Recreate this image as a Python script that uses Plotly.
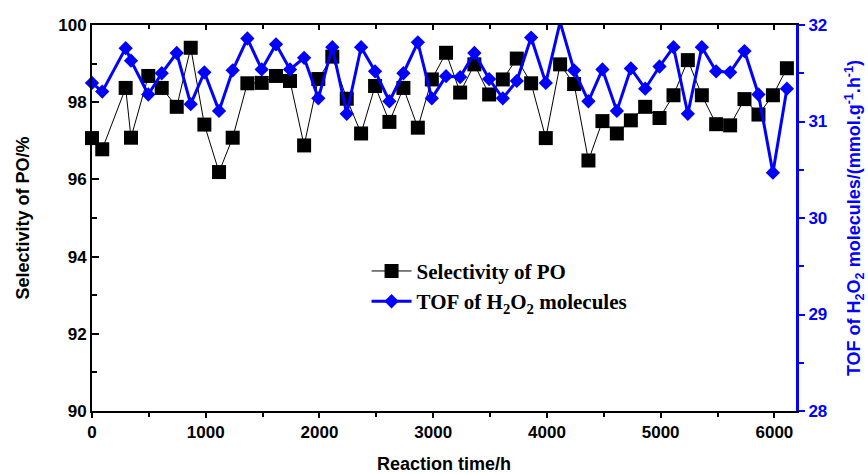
import plotly.graph_objects as go

# Reaction time (h) for each sampling point
time_h = [0, 90, 296, 343, 495, 613, 745, 868, 988, 1117,
          1237, 1366, 1492, 1618, 1741, 1865, 1990, 2113, 2240, 2366,
          2489, 2615, 2738, 2865, 2988, 3113, 3237, 3362, 3492, 3612,
          3735, 3861, 3990, 4116, 4239, 4365, 4488, 4615, 4738, 4864,
          4990, 5113, 5239, 5362, 5488, 5611, 5737, 5860, 5987, 6110]

# Selectivity of PO (%)
selectivity = [97.07, 96.78, 98.37, 97.08, 98.68, 98.37, 97.88, 99.41, 97.42, 96.19,
               97.08, 98.49, 98.50, 98.68, 98.55, 96.88, 98.60, 99.18, 98.09, 97.19,
               98.42, 97.49, 98.37, 97.34, 98.59, 99.28, 98.25, 98.98, 98.20, 98.59,
               99.13, 98.49, 97.07, 98.98, 98.47, 96.49, 97.51, 97.19, 97.53, 97.88,
               97.59, 98.18, 99.09, 98.18, 97.43, 97.40, 98.08, 97.68, 98.18, 98.88]

# TOF of H2O2 molecules (mmol g-1 h-1)
tof = [31.40, 31.31, 31.76, 31.63, 31.28, 31.50, 31.71, 31.18, 31.51, 31.11,
       31.53, 31.86, 31.54, 31.80, 31.54, 31.66, 31.24, 31.77, 31.08, 31.77,
       31.52, 31.21, 31.50, 31.82, 31.24, 31.47, 31.46, 31.71, 31.44, 31.24,
       31.42, 31.87, 31.40, 32.03, 31.53, 31.21, 31.54, 31.11, 31.55, 31.34,
       31.57, 31.77, 31.08, 31.77, 31.52, 31.51, 31.73, 31.28, 30.47, 31.34]

x_ticks = [0, 1000, 2000, 3000, 4000, 5000, 6000]
sel_ticks = [90, 92, 94, 96, 98, 100]
tof_ticks = [28, 29, 30, 31, 32]

BLUE = "#0000FF"
SANS = "Liberation Sans, Arial, sans-serif"
SERIF = "Liberation Serif, Times New Roman, serif"
X_RANGE = [0, 6190]

fig = go.Figure()

fig.add_trace(go.Scatter(
    x=time_h, y=selectivity, mode="lines+markers",
    name="<b>Selectivity of PO</b>",
    line=dict(color="black", width=1),
    marker=dict(symbol="square", size=14, color="black"),
    xaxis="x", yaxis="y", cliponaxis=False,
))

fig.add_trace(go.Scatter(
    x=time_h, y=tof, mode="lines+markers",
    name="<b>TOF of H<sub>2</sub>O<sub>2</sub> molecules</b>",
    line=dict(color=BLUE, width=3),
    marker=dict(symbol="diamond", size=11, color=BLUE),
    xaxis="x", yaxis="y2", cliponaxis=False,
))

tick_font = dict(family=SANS, size=17, color="black", weight="bold")

fig.update_layout(
    width=868, height=474,
    margin=dict(l=92, r=72, t=25, b=63),
    paper_bgcolor="white", plot_bgcolor="white",
    showlegend=True,
    legend=dict(
        x=0.39, y=0.415, xanchor="left", yanchor="top",
        bgcolor="rgba(0,0,0,0)",
        font=dict(family=SERIF, size=21, color="black"),
        itemwidth=40, tracegroupgap=4,
    ),
    xaxis=dict(
        range=X_RANGE, tickvals=x_ticks, automargin=False,
        ticks="outside", ticklen=5, tickwidth=2, tickcolor="black",
        minor=dict(dtick=500, ticks="outside", ticklen=4, tickwidth=2, tickcolor="black"),
        showline=True, linecolor="black", linewidth=2,
        showgrid=False, zeroline=False,
        tickfont=tick_font,
        title=dict(text="<b>Reaction time/h</b>",
                   font=dict(family=SANS, size=18, color="black"), standoff=20),
    ),
    xaxis2=dict(
        range=X_RANGE, overlaying="x", side="top", anchor="y", automargin=False,
        tickvals=x_ticks, showticklabels=False,
        ticks="inside", ticklen=5, tickwidth=2, tickcolor="black",
        minor=dict(dtick=500, ticks="inside", ticklen=4, tickwidth=2, tickcolor="black"),
        showline=True, linecolor="black", linewidth=2,
        showgrid=False, zeroline=False,
    ),
    yaxis=dict(
        range=[90, 100], tickvals=sel_ticks, automargin=False,
        ticks="inside", ticklen=7, tickwidth=2, tickcolor="black",
        minor=dict(dtick=1, ticks="inside", ticklen=5, tickwidth=2, tickcolor="black"),
        showline=True, linecolor="black", linewidth=2,
        showgrid=False, zeroline=False,
        tickfont=tick_font,
        title=dict(text="<b>Selectivity of PO/%</b>",
                   font=dict(family=SANS, size=18, color="black"), standoff=24),
    ),
    yaxis2=dict(
        range=[28, 32], tickvals=tof_ticks, overlaying="y", side="right", anchor="x",
        automargin=False,
        ticks="outside", ticklen=6, tickwidth=2, tickcolor=BLUE,
        minor=dict(dtick=0.5, ticks="outside", ticklen=5, tickwidth=2, tickcolor=BLUE),
        showline=True, linecolor=BLUE, linewidth=3,
        showgrid=False, zeroline=False,
        tickfont=dict(family=SANS, size=17, color=BLUE, weight="bold"),
        title=dict(text="<b>TOF of H<sub>2</sub>O<sub>2</sub> molecules/(mmol.g<sup>-1</sup>.h<sup>-1</sup>)</b>",
                   font=dict(family=SANS, size=18, color=BLUE), standoff=22),
    ),
)

# empty trace bound to the top mirror axis so it is drawn
fig.add_trace(go.Scatter(x=[None], y=[None], xaxis="x2", yaxis="y",
                         showlegend=False, hoverinfo="skip"))

fig.write_html("out.html")
